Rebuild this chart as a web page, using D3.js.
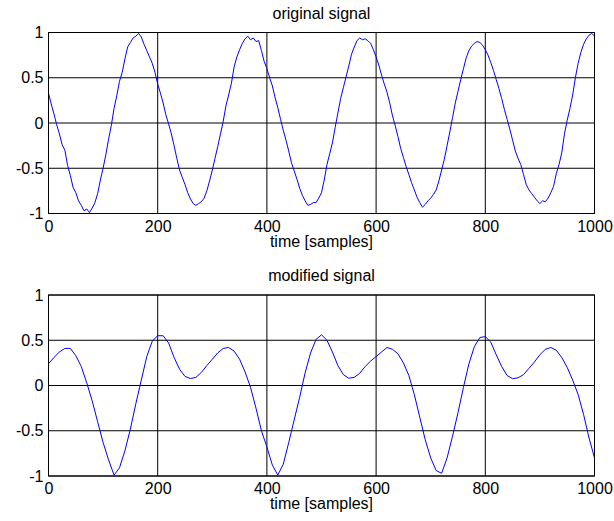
<!DOCTYPE html>
<html>
<head>
<meta charset="utf-8">
<script src="https://cdn.jsdelivr.net/npm/d3@7"></script>
<style>
  body { margin: 0; background: #fff; }
  svg { display: block; }
  text { font-family: "Liberation Sans", Arial, sans-serif; fill: #000; }
</style>
</head>
<body>
<svg id="chart"></svg>
<script>
// original signal, one value every 5 samples
const originalValues = [
  0.33, 0.21, 0.10, -0.02, -0.12, -0.24, -0.30, -0.47, -0.58, -0.71,
  -0.77, -0.86, -0.91, -0.97, -0.95, -0.99, -0.94, -0.88, -0.78, -0.63,
  -0.50, -0.35, -0.18, -0.03, 0.16, 0.30, 0.46, 0.56, 0.71, 0.84,
  0.89, 0.94, 0.96, 0.99, 0.95, 0.87, 0.80, 0.73, 0.66, 0.56,
  0.43, 0.33, 0.22, 0.09, -0.01, -0.12, -0.25, -0.39, -0.52, -0.60,
  -0.68, -0.77, -0.84, -0.89, -0.91, -0.89, -0.87, -0.83, -0.75, -0.64,
  -0.52, -0.39, -0.26, -0.12, 0.02, 0.19, 0.31, 0.44, 0.62, 0.73,
  0.81, 0.88, 0.93, 0.96, 0.92, 0.94, 0.90, 0.91, 0.80, 0.68,
  0.60, 0.50, 0.41, 0.28, 0.17, 0.04, -0.08, -0.19, -0.31, -0.44,
  -0.53, -0.62, -0.72, -0.80, -0.86, -0.91, -0.90, -0.88, -0.88, -0.83,
  -0.77, -0.63, -0.46, -0.34, -0.22, -0.05, 0.11, 0.27, 0.39, 0.51,
  0.63, 0.76, 0.84, 0.91, 0.94, 0.92, 0.93, 0.91, 0.88, 0.81,
  0.73, 0.64, 0.53, 0.43, 0.34, 0.22, 0.08, -0.03, -0.15, -0.28,
  -0.38, -0.48, -0.57, -0.66, -0.74, -0.82, -0.88, -0.93, -0.90, -0.86,
  -0.83, -0.79, -0.74, -0.64, -0.52, -0.40, -0.25, -0.10, 0.06, 0.22,
  0.35, 0.48, 0.60, 0.72, 0.80, 0.85, 0.88, 0.90, 0.89, 0.86,
  0.81, 0.75, 0.67, 0.58, 0.48, 0.38, 0.27, 0.15, 0.04, -0.07,
  -0.19, -0.31, -0.39, -0.46, -0.57, -0.68, -0.74, -0.78, -0.82, -0.86,
  -0.89, -0.86, -0.87, -0.83, -0.77, -0.70, -0.56, -0.46, -0.33, -0.12,
  0.03, 0.16, 0.31, 0.50, 0.66, 0.78, 0.87, 0.93, 0.97, 0.99,
  0.96
];
const originalStep = 5;

// modified signal, one value every 10 samples
const modifiedValues = [
  0.24, 0.31, 0.37, 0.41, 0.41, 0.33, 0.21, 0.03, -0.17, -0.40,
  -0.63, -0.82, -0.99, -0.91, -0.72, -0.48, -0.20, 0.06, 0.32, 0.49,
  0.55, 0.55, 0.47, 0.31, 0.18, 0.10, 0.077, 0.09, 0.145, 0.22,
  0.29, 0.36, 0.41, 0.42, 0.38, 0.29, 0.15, -0.02, -0.25, -0.50,
  -0.68, -0.88, -0.99, -0.87, -0.63, -0.38, -0.13, 0.14, 0.36, 0.51,
  0.56, 0.50, 0.37, 0.22, 0.12, 0.08, 0.09, 0.135, 0.21, 0.27,
  0.32, 0.37, 0.42, 0.40, 0.35, 0.25, 0.11, -0.10, -0.35, -0.60,
  -0.80, -0.94, -0.97, -0.80, -0.56, -0.30, -0.02, 0.24, 0.43, 0.53,
  0.54, 0.48, 0.34, 0.21, 0.11, 0.075, 0.085, 0.12, 0.19, 0.26,
  0.34, 0.40, 0.42, 0.39, 0.31, 0.20, 0.06, -0.10, -0.32, -0.58,
  -0.80
];
const modifiedStep = 10;

const titles = ['original signal', 'modified signal'];
const xLabel = 'time [samples]';
const xTicks = [0, 200, 400, 600, 800, 1000];
const yTicks = [-1, -0.5, 0, 0.5, 1];

const width = 614, height = 521;
const left = 48.5, right = 594.5;
const panelTops = [32.5, 295];
const panelHeight = 181;

const svg = d3.select('#chart')
  .attr('width', width)
  .attr('height', height);

svg.append('rect')
  .attr('width', width)
  .attr('height', height)
  .attr('fill', '#fff');

const x = d3.scaleLinear().domain([0, 1000]).range([left, right]);

const panels = [
  { values: originalValues, step: originalStep },
  { values: modifiedValues, step: modifiedStep }
];

panels.forEach((p, k) => {
  const top = panelTops[k];
  const bottom = top + panelHeight;
  const y = d3.scaleLinear().domain([-1, 1]).range([bottom, top]);
  const g = svg.append('g');

  // grid
  g.selectAll('.vgrid')
    .data(xTicks)
    .enter()
    .append('line')
    .attr('x1', d => x(d)).attr('x2', d => x(d))
    .attr('y1', top).attr('y2', bottom)
    .attr('stroke', '#000')
    .attr('stroke-width', 1);

  g.selectAll('.hgrid')
    .data(yTicks)
    .enter()
    .append('line')
    .attr('x1', left).attr('x2', right)
    .attr('y1', d => y(d)).attr('y2', d => y(d))
    .attr('stroke', '#000')
    .attr('stroke-width', 1);

  // signal
  const line = d3.line()
    .x((d, i) => x(i * p.step))
    .y(d => y(d));

  g.append('path')
    .datum(p.values)
    .attr('d', line)
    .attr('fill', 'none')
    .attr('stroke', '#0000ff')
    .attr('stroke-width', 1)
    .attr('stroke-linejoin', 'round');

  // box
  g.append('rect')
    .attr('x', left).attr('y', top)
    .attr('width', right - left).attr('height', panelHeight)
    .attr('fill', 'none')
    .attr('stroke', '#000')
    .attr('stroke-width', 1);

  // axes (labels only, grid is drawn above)
  const xAxis = g.append('g')
    .attr('transform', `translate(0, ${bottom})`)
    .call(d3.axisBottom(x).tickValues(xTicks).tickSize(0).tickPadding(7).tickFormat(d3.format('d')));
  xAxis.select('.domain').remove();
  xAxis.selectAll('text')
    .attr('dy', '0.71em')
    .style('font-size', '16px')
    .style('font-family', '"Liberation Sans", Arial, sans-serif');

  const yAxis = g.append('g')
    .attr('transform', `translate(${left}, 0)`)
    .call(d3.axisLeft(y).tickValues(yTicks).tickSize(0).tickPadding(5).tickFormat(d => String(d)));
  yAxis.select('.domain').remove();
  yAxis.selectAll('text')
    .style('font-size', '16px')
    .style('font-family', '"Liberation Sans", Arial, sans-serif');

  g.append('text')
    .attr('x', (left + right) / 2)
    .attr('y', top - 14)
    .attr('text-anchor', 'middle')
    .style('font-size', '16px')
    .text(titles[k]);

  g.append('text')
    .attr('x', (left + right) / 2)
    .attr('y', bottom + 33)
    .attr('text-anchor', 'middle')
    .style('font-size', '16px')
    .text(xLabel);
});
</script>
</body>
</html>
